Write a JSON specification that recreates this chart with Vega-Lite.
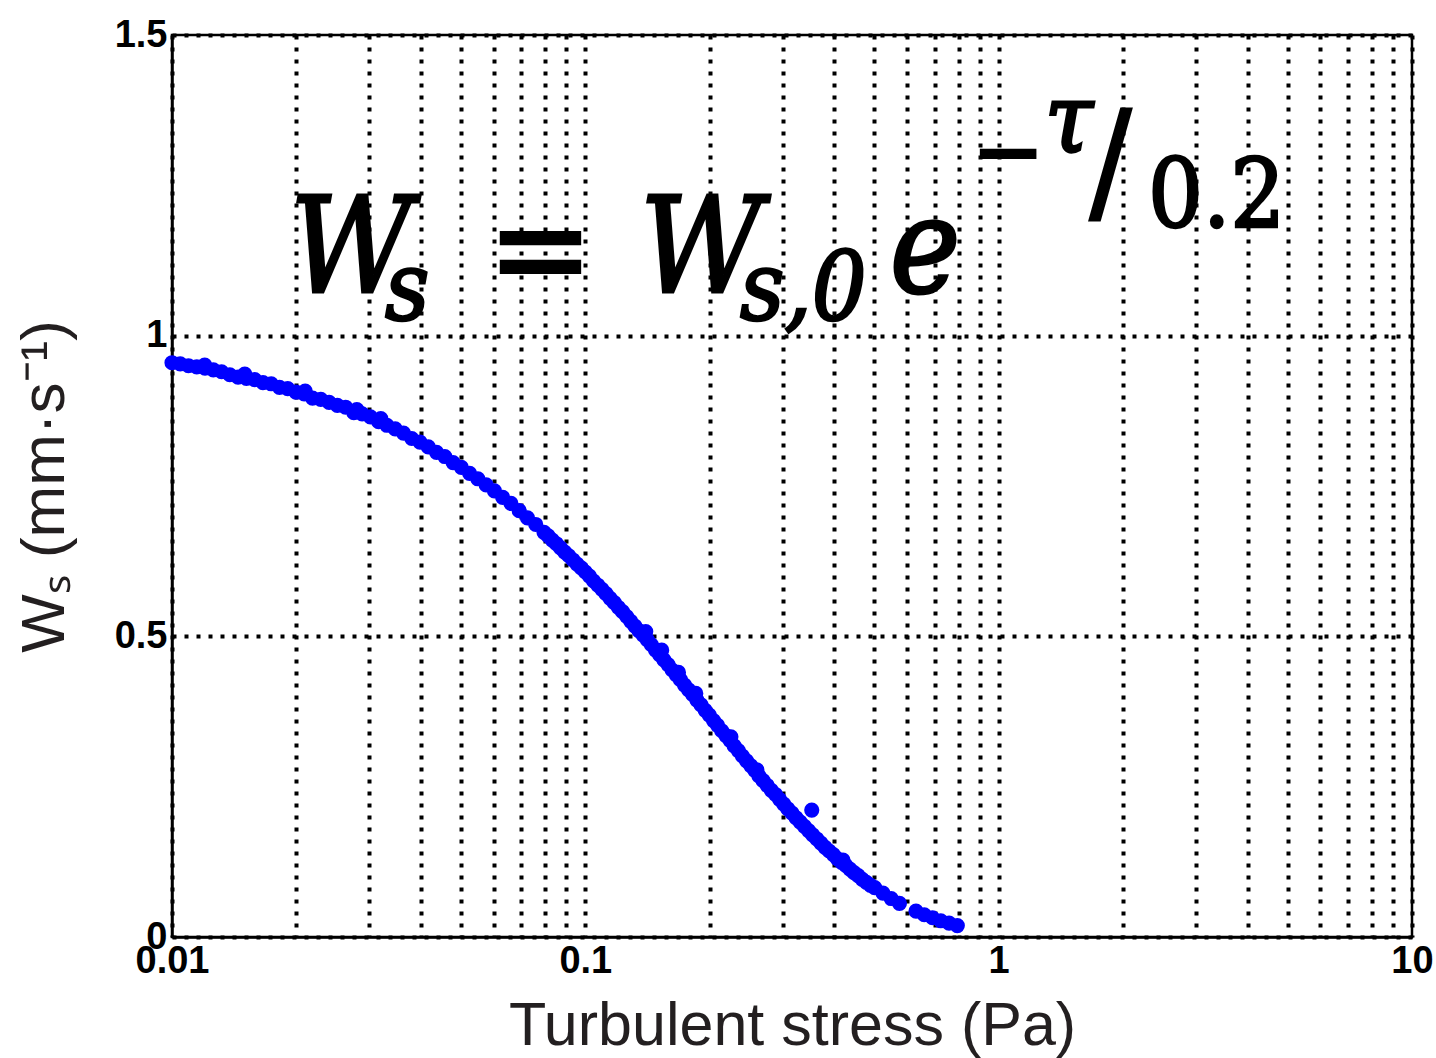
{
  "$schema": "https://vega.github.io/schema/vega-lite/v6.json",
  "width": 1240,
  "height": 902,
  "autosize": {"type": "none"},
  "padding": {"left": 172, "top": 35, "right": 24, "bottom": 121},
  "background": "white",
  "config": {
    "view": {"stroke": "black", "strokeWidth": 2.5},
    "axis": {
      "domainColor": "black",
      "domainWidth": 2.5,
      "grid": true,
      "gridColor": "black",
      "gridWidth": 4,
      "gridDash": [4, 8],
      "gridOpacity": 1,
      "ticks": false,
      "labelFont": "Liberation Sans",
      "labelFontWeight": "bold",
      "labelFontSize": 38,
      "labelColor": "black",
      "labelFlush": false,
      "labelOverlap": false,
      "titleFont": "Liberation Sans",
      "titleFontWeight": "normal",
      "titleFontSize": 61,
      "titleColor": "#231f20"
    }
  },
  "datasets": {
    "settling": [
      {"tau": 0.01000, "ws": 0.955}, {"tau": 0.01047, "ws": 0.953}, {"tau": 0.01096, "ws": 0.950},
      {"tau": 0.01148, "ws": 0.948}, {"tau": 0.01200, "ws": 0.951}, {"tau": 0.01202, "ws": 0.946},
      {"tau": 0.01259, "ws": 0.943}, {"tau": 0.01318, "ws": 0.940}, {"tau": 0.01380, "ws": 0.935},
      {"tau": 0.01445, "ws": 0.931}, {"tau": 0.01500, "ws": 0.936}, {"tau": 0.01514, "ws": 0.929},
      {"tau": 0.01585, "ws": 0.927}, {"tau": 0.01660, "ws": 0.922}, {"tau": 0.01738, "ws": 0.920},
      {"tau": 0.01820, "ws": 0.914}, {"tau": 0.01905, "ws": 0.912}, {"tau": 0.01995, "ws": 0.906},
      {"tau": 0.02089, "ws": 0.903}, {"tau": 0.02100, "ws": 0.908}, {"tau": 0.02188, "ws": 0.896},
      {"tau": 0.02291, "ws": 0.894}, {"tau": 0.02399, "ws": 0.889}, {"tau": 0.02512, "ws": 0.884},
      {"tau": 0.02630, "ws": 0.881}, {"tau": 0.02754, "ws": 0.872}, {"tau": 0.02800, "ws": 0.877},
      {"tau": 0.02884, "ws": 0.870}, {"tau": 0.03020, "ws": 0.865}, {"tau": 0.03162, "ws": 0.857},
      {"tau": 0.03200, "ws": 0.862}, {"tau": 0.03311, "ws": 0.851}, {"tau": 0.03467, "ws": 0.845},
      {"tau": 0.03631, "ws": 0.838}, {"tau": 0.03802, "ws": 0.829}, {"tau": 0.03981, "ws": 0.823},
      {"tau": 0.04169, "ws": 0.815}, {"tau": 0.04365, "ws": 0.806}, {"tau": 0.04571, "ws": 0.799},
      {"tau": 0.04786, "ws": 0.789}, {"tau": 0.05012, "ws": 0.781}, {"tau": 0.05248, "ws": 0.771},
      {"tau": 0.05495, "ws": 0.762}, {"tau": 0.05754, "ws": 0.752}, {"tau": 0.06026, "ws": 0.742},
      {"tau": 0.06310, "ws": 0.731}, {"tau": 0.06607, "ws": 0.721}, {"tau": 0.06918, "ws": 0.709},
      {"tau": 0.07244, "ws": 0.697}, {"tau": 0.07586, "ws": 0.686}, {"tau": 0.07943, "ws": 0.673},
      {"tau": 0.08128, "ws": 0.667}, {"tau": 0.08318, "ws": 0.660}, {"tau": 0.08511, "ws": 0.654},
      {"tau": 0.08710, "ws": 0.647}, {"tau": 0.08913, "ws": 0.640}, {"tau": 0.09120, "ws": 0.634},
      {"tau": 0.09333, "ws": 0.627}, {"tau": 0.09550, "ws": 0.620}, {"tau": 0.09772, "ws": 0.614},
      {"tau": 0.1000, "ws": 0.607}, {"tau": 0.1023, "ws": 0.600}, {"tau": 0.1047, "ws": 0.592},
      {"tau": 0.1072, "ws": 0.585}, {"tau": 0.1097, "ws": 0.578}, {"tau": 0.1122, "ws": 0.571},
      {"tau": 0.1148, "ws": 0.563}, {"tau": 0.1175, "ws": 0.556}, {"tau": 0.1202, "ws": 0.548},
      {"tau": 0.1230, "ws": 0.541}, {"tau": 0.1259, "ws": 0.533}, {"tau": 0.1288, "ws": 0.525},
      {"tau": 0.1318, "ws": 0.517}, {"tau": 0.1349, "ws": 0.509}, {"tau": 0.1380, "ws": 0.502},
      {"tau": 0.1400, "ws": 0.508}, {"tau": 0.1413, "ws": 0.494}, {"tau": 0.1445, "ws": 0.486},
      {"tau": 0.1479, "ws": 0.477}, {"tau": 0.1514, "ws": 0.469}, {"tau": 0.1530, "ws": 0.477},
      {"tau": 0.1549, "ws": 0.461}, {"tau": 0.1585, "ws": 0.453}, {"tau": 0.1622, "ws": 0.444},
      {"tau": 0.1660, "ws": 0.436}, {"tau": 0.1680, "ws": 0.440}, {"tau": 0.1698, "ws": 0.428},
      {"tau": 0.1738, "ws": 0.419}, {"tau": 0.1778, "ws": 0.411}, {"tau": 0.1820, "ws": 0.403},
      {"tau": 0.1850, "ws": 0.405}, {"tau": 0.1862, "ws": 0.394}, {"tau": 0.1905, "ws": 0.386},
      {"tau": 0.1950, "ws": 0.377}, {"tau": 0.1995, "ws": 0.369}, {"tau": 0.2042, "ws": 0.360},
      {"tau": 0.2089, "ws": 0.352}, {"tau": 0.2138, "ws": 0.343}, {"tau": 0.2188, "ws": 0.335},
      {"tau": 0.2239, "ws": 0.327}, {"tau": 0.2250, "ws": 0.333}, {"tau": 0.2291, "ws": 0.318},
      {"tau": 0.2344, "ws": 0.310}, {"tau": 0.2399, "ws": 0.301}, {"tau": 0.2455, "ws": 0.293},
      {"tau": 0.2512, "ws": 0.285}, {"tau": 0.2570, "ws": 0.277}, {"tau": 0.2600, "ws": 0.278},
      {"tau": 0.2630, "ws": 0.268}, {"tau": 0.2692, "ws": 0.260}, {"tau": 0.2754, "ws": 0.252},
      {"tau": 0.2818, "ws": 0.244}, {"tau": 0.2884, "ws": 0.237}, {"tau": 0.2951, "ws": 0.229},
      {"tau": 0.3020, "ws": 0.221}, {"tau": 0.3090, "ws": 0.213}, {"tau": 0.3162, "ws": 0.206},
      {"tau": 0.3236, "ws": 0.198}, {"tau": 0.3311, "ws": 0.191}, {"tau": 0.3388, "ws": 0.184},
      {"tau": 0.3467, "ws": 0.177}, {"tau": 0.3530, "ws": 0.211}, {"tau": 0.3548, "ws": 0.170},
      {"tau": 0.3631, "ws": 0.163}, {"tau": 0.3715, "ws": 0.156}, {"tau": 0.3802, "ws": 0.149},
      {"tau": 0.3890, "ws": 0.143}, {"tau": 0.3981, "ws": 0.137}, {"tau": 0.4074, "ws": 0.130},
      {"tau": 0.4169, "ws": 0.124}, {"tau": 0.4200, "ws": 0.128}, {"tau": 0.4266, "ws": 0.119},
      {"tau": 0.4365, "ws": 0.113}, {"tau": 0.4467, "ws": 0.107}, {"tau": 0.4571, "ws": 0.102},
      {"tau": 0.4677, "ws": 0.096}, {"tau": 0.4786, "ws": 0.091}, {"tau": 0.4898, "ws": 0.086},
      {"tau": 0.5012, "ws": 0.082}, {"tau": 0.5248, "ws": 0.073}, {"tau": 0.5495, "ws": 0.064},
      {"tau": 0.5754, "ws": 0.056}, {"tau": 0.6310, "ws": 0.043}, {"tau": 0.6607, "ws": 0.037},
      {"tau": 0.6918, "ws": 0.032}, {"tau": 0.7244, "ws": 0.027}, {"tau": 0.7586, "ws": 0.023},
      {"tau": 0.7943, "ws": 0.019}
    ],
    "formula": [
      {"part": "big", "tau": 0.01930, "ws": 1.0726, "txt": "W"},
      {"part": "sub", "tau": 0.03276, "ws": 1.0261, "txt": "s"},
      {"part": "eq", "tau": 0.05751, "ws": 1.0710, "txt": "="},
      {"part": "big", "tau": 0.13563, "ws": 1.0726, "txt": "W"},
      {"part": "sub", "tau": 0.2367, "ws": 1.0261, "txt": "s,0"},
      {"part": "big", "tau": 0.5459, "ws": 1.0726, "txt": "e"},
      {"part": "sup", "tau": 0.8620, "ws": 1.2522, "txt": "−"},
      {"part": "supi", "tau": 1.2945, "ws": 1.3054, "txt": "τ"},
      {"part": "slash", "tau": 1.6634, "ws": 1.2140, "txt": "/"},
      {"part": "sup", "tau": 2.2976, "ws": 1.1807, "txt": "0.2"}
    ]
  },
  "encoding": {
    "x": {
      "field": "tau",
      "type": "quantitative",
      "scale": {"type": "log", "domain": [0.01, 10], "nice": false},
      "axis": {
        "title": "Turbulent stress (Pa)",
        "values": [0.01, 0.02, 0.03, 0.04, 0.05, 0.06, 0.07, 0.08, 0.09, 0.1, 0.2, 0.3, 0.4, 0.5, 0.6, 0.7, 0.8, 0.9, 1, 2, 3, 4, 5, 6, 7, 8, 9, 10],
        "labelExpr": "datum.value == 0.01 ? '0.01' : datum.value == 0.1 ? '0.1' : datum.value == 1 ? '1' : datum.value == 10 ? '10' : ''",
        "labelPadding": 5,
        "titlePadding": 16
      }
    },
    "y": {
      "field": "ws",
      "type": "quantitative",
      "scale": {"domain": [0, 1.5], "nice": false},
      "axis": {
        "title": "Wₛ (mm·s⁻¹)",
        "titleFontSize": 62,
        "values": [0, 0.5, 1, 1.5],
        "format": "~g",
        "labelPadding": 5,
        "titlePadding": 38
      }
    }
  },
  "layer": [
    {
      "data": {"name": "settling"},
      "mark": {"type": "circle", "color": "#0000ff", "opacity": 1, "size": 230}
    },
    {
      "data": {"name": "formula"},
      "transform": [{"filter": "datum.part == 'big'"}],
      "mark": {"type": "text", "font": "DejaVu Serif Condensed, DejaVu Serif", "fontStyle": "italic", "fontSize": 132, "align": "left", "baseline": "alphabetic", "fill": "black", "stroke": "black", "strokeWidth": 3},
      "encoding": {"text": {"field": "txt"}}
    },
    {
      "data": {"name": "formula"},
      "transform": [{"filter": "datum.part == 'sub'"}],
      "mark": {"type": "text", "font": "DejaVu Serif Condensed, DejaVu Serif", "fontStyle": "italic", "fontSize": 96, "align": "left", "baseline": "alphabetic", "fill": "black", "stroke": "black", "strokeWidth": 2.5},
      "encoding": {"text": {"field": "txt"}}
    },
    {
      "data": {"name": "formula"},
      "transform": [{"filter": "datum.part == 'eq'"}],
      "mark": {"type": "text", "font": "DejaVu Serif", "fontWeight": "bold", "fontSize": 130, "align": "left", "baseline": "alphabetic", "color": "black"},
      "encoding": {"text": {"field": "txt"}}
    },
    {
      "data": {"name": "formula"},
      "transform": [{"filter": "datum.part == 'sup'"}],
      "mark": {"type": "text", "font": "DejaVu Serif Condensed, DejaVu Serif", "fontSize": 96, "align": "left", "baseline": "alphabetic", "fill": "black", "stroke": "black", "strokeWidth": 2.5},
      "encoding": {"text": {"field": "txt"}}
    },
    {
      "data": {"name": "formula"},
      "transform": [{"filter": "datum.part == 'supi'"}],
      "mark": {"type": "text", "font": "DejaVu Serif Condensed, DejaVu Serif", "fontStyle": "italic", "fontSize": 96, "align": "left", "baseline": "alphabetic", "fill": "black", "stroke": "black", "strokeWidth": 3},
      "encoding": {"text": {"field": "txt"}}
    },
    {
      "data": {"name": "formula"},
      "transform": [{"filter": "datum.part == 'slash'"}],
      "mark": {"type": "text", "font": "DejaVu Serif Condensed, DejaVu Serif", "fontSize": 135, "align": "left", "baseline": "alphabetic", "fill": "black", "stroke": "black", "strokeWidth": 3},
      "encoding": {"text": {"field": "txt"}}
    }
  ]
}
